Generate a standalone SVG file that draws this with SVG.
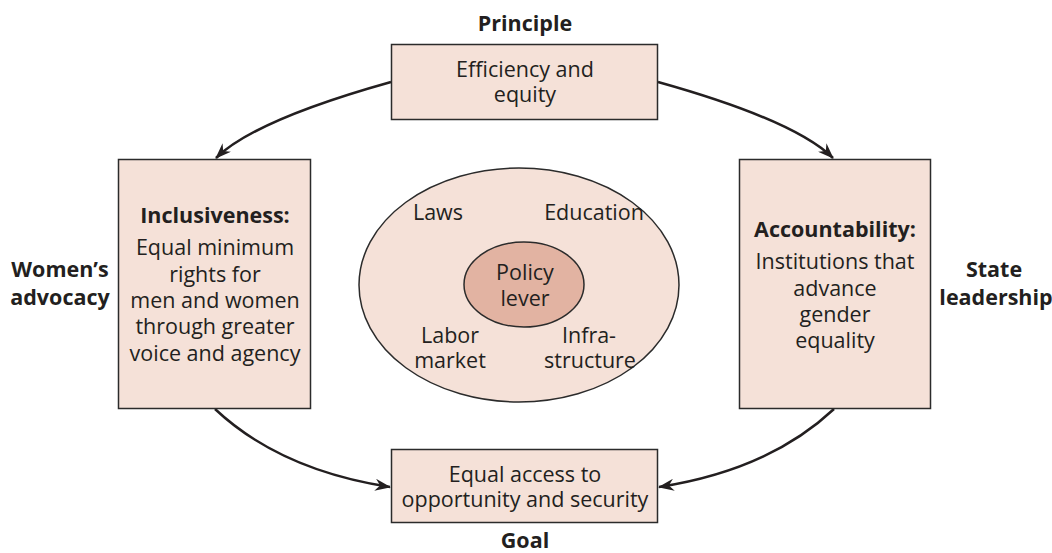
<svg xmlns="http://www.w3.org/2000/svg" width="1052" height="553" viewBox="0 0 1052 553">
<style>
.box{fill:#f5e1d8;stroke:#2b2b2b;stroke-width:1.5}
.t{font-family:"Open Sans","Noto Sans",sans-serif;font-size:21.5px;fill:#231f20;text-anchor:middle}
.b{font-family:"Open Sans","Noto Sans",sans-serif;font-size:21.5px;font-weight:bold;fill:#231f20;text-anchor:middle}
.c{fill:none;stroke:#231f20;stroke-width:2.5}
</style>
<defs>
<marker id="ah" viewBox="0 0 16 12" refX="15" refY="6" markerWidth="16" markerHeight="12" markerUnits="userSpaceOnUse" orient="auto">
<path d="M0,0 L16,6 L0,12 L5,6 Z" fill="#231f20"/>
</marker>
</defs>
<g id="connectors">
<path class="c" d="M391,82 Q255,120 216,158" marker-end="url(#ah)"/>
<path class="c" d="M658,82 Q794,120 833,158" marker-end="url(#ah)"/>
<path class="c" d="M215,409 Q280,470 390,487" marker-end="url(#ah)"/>
<path class="c" d="M834,409 Q769,470 659,487" marker-end="url(#ah)"/>
</g>
<g id="principle">
<text class="b" x="525" y="31">Principle</text>
<rect class="box" x="391.5" y="44.5" width="266" height="75"/>
<text class="t" x="525" y="77">Efficiency and</text>
<text class="t" x="525" y="102">equity</text>
</g>
<g id="inclusiveness">
<rect class="box" x="118.5" y="159.5" width="192" height="249"/>
<text class="b" x="215" y="223">Inclusiveness:</text>
<text class="t" x="215" y="255">Equal minimum</text>
<text class="t" x="215" y="282">rights for</text>
<text class="t" x="215" y="308">men and women</text>
<text class="t" x="215" y="334">through greater</text>
<text class="t" x="215" y="361">voice and agency</text>
</g>
<g id="womens-advocacy">
<text class="b" x="60" y="277">Women’s</text>
<text class="b" x="60" y="305">advocacy</text>
</g>
<g id="accountability">
<rect class="box" x="739.5" y="159.5" width="191" height="249"/>
<text class="b" x="835" y="237">Accountability:</text>
<text class="t" x="835" y="269">Institutions that</text>
<text class="t" x="835" y="296">advance</text>
<text class="t" x="835" y="322">gender</text>
<text class="t" x="835" y="348">equality</text>
</g>
<g id="state-leadership">
<text class="b" x="994" y="277">State</text>
<text class="b" x="996" y="305">leadership</text>
</g>
<g id="policy-areas">
<ellipse cx="519" cy="285" rx="160" ry="117" fill="#f5e1d8" stroke="#2b2b2b" stroke-width="1.5"/>
<text class="t" x="438" y="220">Laws</text>
<text class="t" x="594" y="220">Education</text>
<text class="t" x="450" y="343">Labor</text>
<text class="t" x="450" y="368">market</text>
<text class="t" x="589" y="343">Infra-</text>
<text class="t" x="590" y="368">structure</text>
</g>
<g id="policy-lever">
<ellipse cx="524" cy="284.5" rx="60" ry="42.5" fill="#e2b3a2" stroke="#2b2b2b" stroke-width="1.5"/>
<text class="t" x="525" y="280">Policy</text>
<text class="t" x="525" y="306">lever</text>
</g>
<g id="goal">
<rect class="box" x="391.5" y="449.5" width="266" height="73"/>
<text class="t" x="525" y="482">Equal access to</text>
<text class="t" x="525" y="507">opportunity and security</text>
<text class="b" x="525" y="548">Goal</text>
</g>
</svg>
